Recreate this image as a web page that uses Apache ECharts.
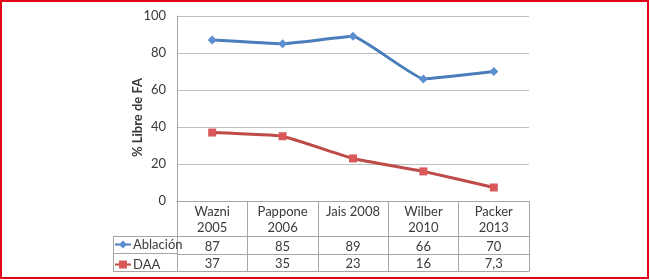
<!DOCTYPE html>
<html>
<head>
<meta charset="utf-8">
<script src="https://cdn.jsdelivr.net/npm/echarts@6/dist/echarts.min.js"></script>
<style>
  html, body { margin: 0; padding: 0; background: #fff; }
  #chart { position: absolute; left: 0; top: 0; width: 650px; height: 280px; }
  #frame { position: absolute; left: 0; top: 0; width: 649px; height: 279px; box-sizing: border-box;
           border: 2px solid #e3061b; pointer-events: none; }
</style>
</head>
<body>
<div id="chart"></div>
<div id="frame"></div>
<script>
// categories (table header) and series values
const studies = ['Wazni\n2005', 'Pappone\n2006', 'Jais 2008', 'Wilber\n2010', 'Packer\n2013']
const ablacion = [87, 85, 89, 66, 70]
const daa = [37, 35, 23, 16, 7.3]
const yTicks = [0, 20, 40, 60, 80, 100]

const font = 'Lato, "Open Sans", sans-serif'
const txt = '#3a3a3a'
const border = '#a6a6a6'

const fmt = v => String(v).replace('.', ',')

const tableAxis = (offset, tickLen, labels, margin) => ({
  type: 'category',
  data: studies,
  position: 'bottom',
  offset: offset,
  boundaryGap: true,
  axisLine: { show: true, lineStyle: { color: border, width: 1 } },
  axisTick: { show: tickLen > 0, length: tickLen, lineStyle: { color: border } },
  axisLabel: {
    show: !!labels,
    margin: margin,
    color: txt,
    fontFamily: font,
    fontSize: 13,
    lineHeight: 16,
    formatter: (v, i) => labels ? labels[i] : ''
  }
})

const chart = echarts.init(document.getElementById('chart'))

chart.setOption({
  animation: false,
  grid: { left: 177, right: 121, top: 16, bottom: 79 },
  legend: {
    orient: 'vertical',
    left: 114,
    top: 238,
    itemWidth: 16,
    itemHeight: 10,
    itemGap: 7,
    padding: 0,
    textStyle: { color: txt, fontFamily: font, fontSize: 13, padding: [0, 0, 0, -3] },
    data: ['Ablación', 'DAA']
  },
  xAxis: [
    tableAxis(0, 35, studies, 3),
    tableAxis(35, 18, ablacion.map(fmt), 3),
    tableAxis(53, 17, daa.map(fmt), 2),
    tableAxis(70, 0, null, 0)
  ],
  yAxis: {
    type: 'value',
    min: yTicks[0],
    max: yTicks[yTicks.length - 1],
    interval: 20,
    name: '% Libre de FA',
    nameLocation: 'middle',
    nameGap: 33,
    nameMoveOverlap: false,
    nameTextStyle: { color: txt, fontFamily: font, fontSize: 13, fontWeight: 'bold', padding: [0, 18, 0, 0] },
    axisLine: { show: true, lineStyle: { color: border } },
    axisTick: { show: false },
    axisLabel: { color: txt, fontFamily: font, fontSize: 13, margin: 11 },
    splitLine: { lineStyle: { color: '#bfbfbf' } }
  },
  graphic: [
    // legend column of the data table
    { type: 'line', shape: { x1: 113, y1: 236.5, x2: 177, y2: 236.5 }, style: { stroke: border } },
    { type: 'line', shape: { x1: 113, y1: 253.5, x2: 177, y2: 253.5 }, style: { stroke: border } },
    { type: 'line', shape: { x1: 113, y1: 271.5, x2: 177, y2: 271.5 }, style: { stroke: border } },
    { type: 'line', shape: { x1: 113.5, y1: 236, x2: 113.5, y2: 272 }, style: { stroke: border } }
  ],
  series: [
    {
      name: 'Ablación',
      type: 'line',
      data: ablacion,
      smooth: 0.1,
      symbol: 'diamond',
      symbolSize: 9,
      lineStyle: { color: '#4a7ebb', width: 3 },
      itemStyle: { color: '#5b8fd0' }
    },
    {
      name: 'DAA',
      type: 'line',
      data: daa,
      smooth: 0.1,
      symbol: 'rect',
      symbolSize: 8,
      lineStyle: { color: '#be4b48', width: 3 },
      itemStyle: { color: '#d9595b' }
    }
  ]
})
</script>
</body>
</html>
